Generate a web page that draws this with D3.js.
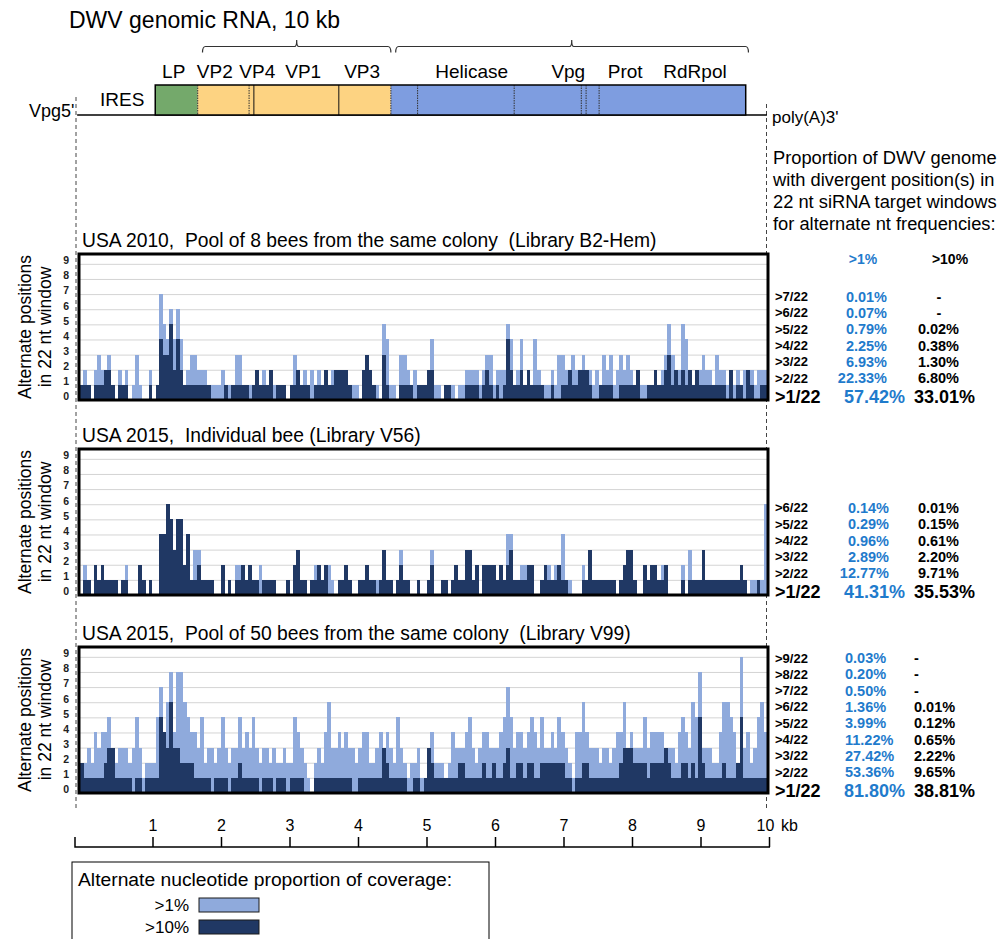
<!DOCTYPE html>
<html>
<head>
<meta charset="utf-8">
<script src="https://cdn.jsdelivr.net/npm/d3@7"></script>
<style>
  body { margin: 0; background: #fff; }
  text { font-family: "Liberation Sans", Arial, Helvetica, sans-serif; }
</style>
</head>
<body>
<svg id="chart"></svg>
<script>
const width = 998;
const height = 939;

// ---- genome map (positions in kb) ----
const regionNames = ['LP', 'VP2', 'VP4', 'VP1', 'VP3', 'Helicase', 'Vpg', 'Prot', 'RdRpol'];
const regionLabelKb = [1.31, 1.91, 2.53, 3.20, 4.06, 5.66, 7.07, 7.90, 8.92];
const blockStartKb = [1.04, 1.66, 4.48];
const blockEndKb = [1.66, 4.48, 9.66];
const solidCutKb = [2.48, 3.72];
const dottedCutKb = [1.66, 2.41, 4.48, 4.87, 6.28, 7.26, 7.33, 7.52];
const bracketStartKb = [1.73, 4.55];
const bracketMidKb = [3.105, 7.12];
const bracketEndKb = [4.48, 9.70];
const kbTicks = [1, 2, 3, 4, 5, 6, 7, 8, 9, 10];

// ---- windows: one digit per 0.05 kb bin, 10 bins per chunk ----
const panelTitles = [
  'USA 2010,  Pool of 8 bees from the same colony  (Library B2-Hem)',
  'USA 2015,  Individual bee (Library V56)',
  'USA 2015,  Pool of 50 bees from the same colony  (Library V99)'
];
const b2HemAbove1 = ['1210232231','0212013100','2017546464','1233222111','1211133111','1212121111','0132121212','1212222211','1023211054','1103321211',
                     '1241101110','1122221233','1222541241','2142111213','3223223221','2132312323','2121111212','3532254212','2322132212','1212221222'];
const b2HemAbove10 = ['1110111221','0111000000','1014335242','1111111100','0010111110','1211120111','0112111011','1211222210','0023210031','0001111011',
                      '1220001100','0011110121','0101421121','2111100100','1121122210','0111100111','1120011211','2312121212','1111111102','0110210011'];
const v56Above1 = ['0210212111','1012000210','1004465355','2413311110','0201022212','1121111000','1023110122','1221011210','0112111131','1013110010',
                   '0130011012','1133120222','2121441122','2200122122','4110002131','1111110123','3100212212','2000020311','1311111111','1121011116'];
const v56Above10 = ['0110212111','1011000210','1004465355','2411211110','0201011212','1101111000','1023110112','1200011210','0112110131','1012110010',
                    '0120011012','1133120222','2121231111','2200121112','1100001131','1111110123','3100212211','2000010111','1311111111','1121000100'];
const v99Above1 = ['2232434453','2333235312','2257468488','6544352332','3532335343','5323323223','2254321023','2463343433','2344223434','3253212231',
                   '1342221243','3345323443','3345753443','4543533435','4321446433','3233234463','4333534444','3332454365','8333224665','4293423564'];
const v99Above10 = ['2111111233','1111101101','1115436332','2221111101','1110112111','1101110111','0111100011','1111111110','0111111132','1111100110',
                    '1321111111','2211111211','2112311221','2211222222','2110112211','1111111233','3222212222','3211122121','5211111211','1251111111'];
const yTicks = [0, 1, 2, 3, 4, 5, 6, 7, 8, 9];

// ---- proportion tables ----
const b2HemRows = ['>7/22', '>6/22', '>5/22', '>4/22', '>3/22', '>2/22'];
const b2HemPct1 = ['0.01%', '0.07%', '0.79%', '2.25%', '6.93%', '22.33%'];
const b2HemPct10 = ['-', '-', '0.02%', '0.38%', '1.30%', '6.80%'];
const b2HemTotal = ['>1/22', '57.42%', '33.01%'];
const v56Rows = ['>6/22', '>5/22', '>4/22', '>3/22', '>2/22'];
const v56Pct1 = ['0.14%', '0.29%', '0.96%', '2.89%', '12.77%'];
const v56Pct10 = ['0.01%', '0.15%', '0.61%', '2.20%', '9.71%'];
const v56Total = ['>1/22', '41.31%', '35.53%'];
const v99Rows = ['>9/22', '>8/22', '>7/22', '>6/22', '>5/22', '>4/22', '>3/22', '>2/22'];
const v99Pct1 = ['0.03%', '0.20%', '0.50%', '1.36%', '3.99%', '11.22%', '27.42%', '53.36%'];
const v99Pct10 = ['-', '-', '-', '0.01%', '0.12%', '0.65%', '2.22%', '9.65%'];
const v99Total = ['>1/22', '81.80%', '38.81%'];

const headerLines = ['Proportion of DWV genome', 'with divergent position(s) in',
                     '22 nt siRNA target windows', 'for alternate nt frequencies:'];
const legendLabels = ['>1%', '>10%'];

// ---- styles ----
const lightBlue = '#8faadc';
const darkBlue = '#203864';
const textBlue = '#1f7bcc';
const blockColors = ['#74a96b', '#fdd382', '#7e9de0'];
const binKb = 0.05;

const svg = d3.select('#chart')
    .attr('width', width)
    .attr('height', height);

const genomeX = d3.scaleLinear().domain([0, 10]).range([84, 769]);
const plotX = d3.scaleLinear().domain([0, 10]).range([80, 767]);

// dashed guides at genome ends
[[76, 97], [766.5, 104]].forEach(([x, y1]) => {
    svg.append('line')
        .attr('x1', x).attr('x2', x).attr('y1', y1).attr('y2', 810)
        .attr('stroke', '#444').attr('stroke-width', 1)
        .attr('stroke-dasharray', '4,3');
});

// ---- genome map ----
svg.append('text')
    .attr('x', 69).attr('y', 28)
    .attr('font-size', 23)
    .text('DWV genomic RNA, 10 kb');

bracketStartKb.forEach((s, i) => {
    const a = genomeX(s), m = genomeX(bracketMidKb[i]), b = genomeX(bracketEndKb[i]);
    svg.append('path')
        .attr('d', `M${a},52.5 Q${a},46.5 ${a + 3},46.5 H${m - 2} Q${m},46.5 ${m},40 Q${m},46.5 ${m + 2},46.5 H${b - 3} Q${b},46.5 ${b},52.5`)
        .attr('fill', 'none').attr('stroke', '#333').attr('stroke-width', 1.2);
});

svg.append('line')
    .attr('x1', genomeX(-0.1)).attr('x2', genomeX(9.97))
    .attr('y1', 115).attr('y2', 115)
    .attr('stroke', '#000').attr('stroke-width', 1.5);

svg.append('g').selectAll('rect')
    .data(blockStartKb)
    .enter().append('rect')
    .attr('x', d => genomeX(d))
    .attr('y', 85)
    .attr('width', (d, i) => genomeX(blockEndKb[i]) - genomeX(d))
    .attr('height', 30)
    .attr('fill', (d, i) => blockColors[i]);

svg.append('g').selectAll('line')
    .data(dottedCutKb)
    .enter().append('line')
    .attr('x1', d => genomeX(d)).attr('x2', d => genomeX(d))
    .attr('y1', 85).attr('y2', 115)
    .attr('stroke', '#333').attr('stroke-width', 1)
    .attr('stroke-dasharray', '1.5,1');

svg.append('g').selectAll('line')
    .data(solidCutKb)
    .enter().append('line')
    .attr('x1', d => genomeX(d)).attr('x2', d => genomeX(d))
    .attr('y1', 85).attr('y2', 115)
    .attr('stroke', '#111').attr('stroke-width', 1);

svg.append('rect')
    .attr('x', genomeX(blockStartKb[0])).attr('y', 85)
    .attr('width', genomeX(blockEndKb[2]) - genomeX(blockStartKb[0]))
    .attr('height', 30)
    .attr('fill', 'none').attr('stroke', '#000').attr('stroke-width', 1.5);

svg.append('g').selectAll('text')
    .data(regionNames)
    .enter().append('text')
    .attr('x', (d, i) => genomeX(regionLabelKb[i]))
    .attr('y', 78)
    .attr('text-anchor', 'middle')
    .attr('font-size', 19)
    .text(d => d);

svg.append('text').attr('x', 100).attr('y', 106).attr('font-size', 19).text('IRES');
svg.append('text').attr('x', 29).attr('y', 117).attr('font-size', 18).text("Vpg5'");
svg.append('text').attr('x', 772).attr('y', 123).attr('font-size', 17).text("poly(A)3'");

svg.append('g').selectAll('text')
    .data(headerLines)
    .enter().append('text')
    .attr('x', 773)
    .attr('y', (d, i) => 163.5 + i * 22)
    .attr('font-size', 18.3)
    .text(d => d);

svg.append('text').attr('x', 863).attr('y', 264).attr('text-anchor', 'middle')
    .attr('font-size', 14).attr('font-weight', 'bold').attr('fill', textBlue).text('>1%');
svg.append('text').attr('x', 950).attr('y', 264).attr('text-anchor', 'middle')
    .attr('font-size', 14).attr('font-weight', 'bold').text('>10%');

// ---- panels ----
const expand = chunks => chunks.join('').split('').map(Number);
const panels = [
    { above1: expand(b2HemAbove1), above10: expand(b2HemAbove10),
      rows: b2HemRows, pct1: b2HemPct1, pct10: b2HemPct10, total: b2HemTotal },
    { above1: expand(v56Above1), above10: expand(v56Above10),
      rows: v56Rows, pct1: v56Pct1, pct10: v56Pct10, total: v56Total },
    { above1: expand(v99Above1), above10: expand(v99Above10),
      rows: v99Rows, pct1: v99Pct1, pct10: v99Pct10, total: v99Total }
];
const panelTops = [254, 449, 647];
const titleBaselines = [246.5, 441.5, 640];
const totalY = [397, 592, 791];
const tableLayout = [
    { blueX: 887, blackX: 959, anchor: 'end' },
    { blueX: 889, blackX: 959, anchor: 'end' },
    { blueX: 845, blackX: 914, anchor: 'start' }
];
const panelH = 146;
const frameLeft = 79, frameRight = 768;

panels.forEach((p, pi) => {
    const top = panelTops[pi];
    const y = d3.scaleLinear().domain([0, 9.65]).range([top + panelH, top]);
    const g = svg.append('g').attr('class', 'panel');

    g.append('text')
        .attr('x', 82).attr('y', titleBaselines[pi])
        .attr('font-size', 19.3)
        .style('white-space', 'pre')
        .text(panelTitles[pi]);

    g.append('text')
        .attr('transform', `translate(31,${top + 73}) rotate(-90)`)
        .attr('text-anchor', 'middle').attr('font-size', 17.5)
        .text('Alternate positions');
    g.append('text')
        .attr('transform', `translate(51,${top + 73}) rotate(-90)`)
        .attr('text-anchor', 'middle').attr('font-size', 17.5)
        .text('in 22 nt window');

    g.append('rect')
        .attr('x', frameLeft).attr('y', top)
        .attr('width', frameRight - frameLeft).attr('height', panelH)
        .attr('fill', '#fff');

    const grid = g.append('g')
        .attr('transform', `translate(${frameLeft},0)`)
        .call(d3.axisLeft(y).tickValues(yTicks.slice(1))
            .tickSize(-(frameRight - frameLeft)).tickFormat(''));
    grid.select('.domain').remove();
    grid.selectAll('line').attr('stroke', '#d4d4d4').attr('stroke-width', 1);

    const bins = d3.range(p.above1.length);
    const binW = i => plotX((i + 1) * binKb) - plotX(i * binKb) + 0.3;

    g.append('g')
        .attr('shape-rendering', 'crispEdges')
        .selectAll('rect')
        .data(bins.filter(i => Math.max(p.above1[i], p.above10[i]) > 0))
        .enter().append('rect')
        .attr('x', i => plotX(i * binKb))
        .attr('width', binW)
        .attr('y', i => y(Math.max(p.above1[i], p.above10[i])))
        .attr('height', i => y(0) - y(Math.max(p.above1[i], p.above10[i])))
        .attr('fill', lightBlue);

    g.append('g')
        .attr('shape-rendering', 'crispEdges')
        .selectAll('rect')
        .data(bins.filter(i => p.above10[i] > 0))
        .enter().append('rect')
        .attr('x', i => plotX(i * binKb))
        .attr('width', binW)
        .attr('y', i => y(p.above10[i]))
        .attr('height', i => y(0) - y(p.above10[i]))
        .attr('fill', darkBlue);

    g.append('rect')
        .attr('x', frameLeft).attr('y', top)
        .attr('width', frameRight - frameLeft).attr('height', panelH)
        .attr('fill', 'none').attr('stroke', '#000').attr('stroke-width', 3);

    const ticks = g.append('g')
        .attr('transform', `translate(${frameLeft},0)`)
        .call(d3.axisLeft(y).tickValues(yTicks).tickSize(0).tickPadding(10));
    ticks.select('.domain').remove();
    ticks.selectAll('text')
        .attr('font-size', 10.5).attr('font-weight', 'bold').attr('fill', '#222')
        .attr('transform', 'translate(0,-3.5)');

    // table
    const lay = tableLayout[pi];
    const n = p.rows.length;
    const rowY = j => totalY[pi] - 19 - 16.3 * (n - 1 - j);
    const t = g.append('g');
    p.rows.forEach((r, j) => {
        t.append('text').attr('x', 775).attr('y', rowY(j)).attr('dy', '0.36em')
            .attr('font-size', 13).attr('font-weight', 'bold').text(r);
        t.append('text').attr('x', lay.blueX).attr('y', rowY(j)).attr('dy', '0.36em')
            .attr('text-anchor', lay.anchor)
            .attr('font-size', 14.5).attr('font-weight', 'bold').attr('fill', textBlue)
            .text(p.pct1[j]);
        const dash = p.pct10[j] === '-' && lay.anchor === 'end';
        t.append('text').attr('x', dash ? lay.blackX - 20 : lay.blackX)
            .attr('y', rowY(j)).attr('dy', '0.36em')
            .attr('text-anchor', dash ? 'middle' : lay.anchor)
            .attr('font-size', 14.5).attr('font-weight', 'bold')
            .text(p.pct10[j]);
    });
    t.append('text').attr('x', 775).attr('y', totalY[pi]).attr('dy', '0.36em')
        .attr('font-size', 18).attr('font-weight', 'bold').text(p.total[0]);
    t.append('text').attr('x', 844).attr('y', totalY[pi]).attr('dy', '0.36em')
        .attr('font-size', 18).attr('font-weight', 'bold').attr('fill', textBlue).text(p.total[1]);
    t.append('text').attr('x', 914).attr('y', totalY[pi]).attr('dy', '0.36em')
        .attr('font-size', 18).attr('font-weight', 'bold').text(p.total[2]);
});

// ---- kb axis ----
const axisG = svg.append('g')
    .attr('transform', 'translate(0,847)')
    .call(d3.axisTop(genomeX).tickValues(kbTicks).tickSize(10).tickPadding(6));
axisG.select('.domain').remove();
axisG.selectAll('line').attr('stroke', '#000').attr('stroke-width', 1.5);
axisG.selectAll('text')
    .attr('font-size', 16).attr('fill', '#000')
    .attr('font-family', '"Liberation Sans", Arial, sans-serif');
axisG.selectAll('.tick').filter(d => d === 10).select('text').attr('dx', -4);
svg.append('path')
    .attr('d', 'M75,837V847H770')
    .attr('fill', 'none').attr('stroke', '#000').attr('stroke-width', 1.5);
svg.append('text').attr('x', 781).attr('y', 831).attr('font-size', 16).text('kb');

// ---- legend ----
svg.append('rect')
    .attr('x', 72).attr('y', 862).attr('width', 417).attr('height', 90)
    .attr('fill', 'none').attr('stroke', '#000').attr('stroke-width', 1);
svg.append('text')
    .attr('x', 78).attr('y', 886)
    .attr('font-size', 18)
    .attr('textLength', 374).attr('lengthAdjust', 'spacingAndGlyphs')
    .text('Alternate nucleotide proportion of coverage:');
legendLabels.forEach((l, i) => {
    svg.append('text')
        .attr('x', 189).attr('y', 911 + i * 22)
        .attr('text-anchor', 'end').attr('font-size', 17)
        .text(l);
    svg.append('rect')
        .attr('x', 199).attr('y', 898 + i * 22)
        .attr('width', 60).attr('height', 14)
        .attr('fill', i === 0 ? lightBlue : darkBlue)
        .attr('stroke', '#1a1a1a').attr('stroke-width', 1);
});
</script>
</body>
</html>
